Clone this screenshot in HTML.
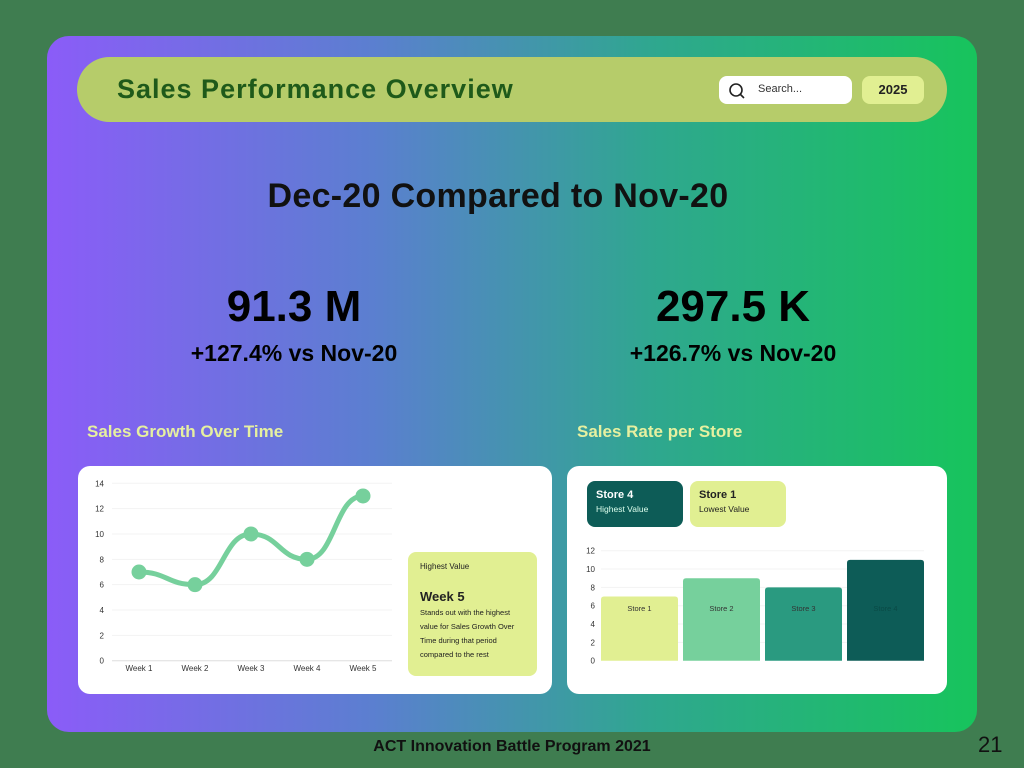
<!DOCTYPE html>
<html><head><meta charset="utf-8"><style>
*{margin:0;padding:0;box-sizing:border-box}
body{width:1024px;height:768px;background:#3f7d50;font-family:"Liberation Sans",sans-serif;position:relative;overflow:hidden}
.abs{position:absolute}
#card{left:47px;top:36px;width:930px;height:696px;border-radius:22px;background:linear-gradient(90deg,#8b5cf8 0%,#5b7fd0 35%,#2fa78f 65%,#17c45c 100%)}
#hdr{left:77px;top:57px;width:870px;height:65px;border-radius:33px;background:#b6cc6a}
.panel{background:#fff;border-radius:12px}
</style></head><body>
<div id="card" class="abs"></div>
<div id="hdr" class="abs"></div>
<div class="abs" style="left:117px;top:74px;font-size:27px;font-weight:bold;color:#1f5a1a;letter-spacing:1px">Sales Performance Overview</div>
<div class="abs" style="left:719px;top:76px;width:133px;height:28px;background:#fff;border-radius:8px">
<svg width="20" height="20" style="position:absolute;left:8px;top:4px"><circle cx="9" cy="10" r="6" fill="none" stroke="#222" stroke-width="1.6"/><line x1="13" y1="14" x2="17" y2="18" stroke="#222" stroke-width="1.6"/></svg>
<span style="position:absolute;left:39px;top:7px;font-size:11px;color:#333">Search...</span></div>
<div class="abs" style="left:862px;top:76px;width:62px;height:28px;background:#e1ef92;border-radius:8px;text-align:center;line-height:28px;font-size:13px;font-weight:bold;color:#222">2025</div>
<div class="abs" style="left:0;width:996px;top:177px;text-align:center;font-size:34px;font-weight:bold;color:#111;letter-spacing:0.3px">Dec-20 Compared to Nov-20</div>
<div class="abs" style="left:144px;width:300px;top:282px;text-align:center;font-size:44px;font-weight:bold;color:#000">91.3 M</div>
<div class="abs" style="left:144px;width:300px;top:340px;text-align:center;font-size:23px;font-weight:bold;color:#000">+127.4% vs Nov-20</div>
<div class="abs" style="left:583px;width:300px;top:282px;text-align:center;font-size:44px;font-weight:bold;color:#000">297.5 K</div>
<div class="abs" style="left:583px;width:300px;top:340px;text-align:center;font-size:23px;font-weight:bold;color:#000">+126.7% vs Nov-20</div>
<div class="abs" style="left:87px;top:422px;font-size:17px;font-weight:bold;color:#e6f0a0">Sales Growth Over Time</div>
<div class="abs" style="left:577px;top:422px;font-size:17px;font-weight:bold;color:#e6f0a0">Sales Rate per Store</div>
<div class="abs panel" style="left:78px;top:466px;width:474px;height:228px"></div>
<div class="abs panel" style="left:567px;top:466px;width:380px;height:228px"></div>
<svg class="abs" style="left:0;top:0" width="1024" height="768" id="charts">
<g id="lineg"></g><g id="barg"></g></svg>
<div class="abs" style="left:408px;top:552px;width:129px;height:124px;background:#e1ef92;border-radius:8px;padding:10px 12px;color:#222">
<div style="font-size:8px">Highest Value</div>
<div style="font-size:13px;font-weight:bold;margin-top:18px">Week 5</div>
<div style="font-size:7.5px;line-height:14px;margin-top:2px">Stands out with the highest value for Sales Growth Over Time during that period compared to the rest</div></div>
<div class="abs" style="left:587px;top:481px;width:96px;height:46px;background:#0d5c57;border-radius:8px;padding:8px 9px;color:#fff">
<div style="font-size:11px;font-weight:bold">Store 4</div><div style="font-size:8.5px;margin-top:3px;color:#dfe">Highest Value</div></div>
<div class="abs" style="left:690px;top:481px;width:96px;height:46px;background:#e1ef92;border-radius:8px;padding:8px 9px;color:#222">
<div style="font-size:11px;font-weight:bold">Store 1</div><div style="font-size:8.5px;margin-top:3px">Lowest Value</div></div>
<div class="abs" style="left:0;width:1024px;top:738px;text-align:center;font-size:16px;font-weight:bold;color:#111">ACT Innovation Battle Program 2021</div>
<div class="abs" style="left:978px;top:732px;font-size:22px;color:#111">21</div>
<script>
const weeks=["Week 1","Week 2","Week 3","Week 4","Week 5"];
const growth=[7,6,10,8,13];
const lineTicks=[0,2,4,6,8,10,12,14];
const stores=["Store 1","Store 2","Store 3","Store 4"];
const rates=[7,9,8,11];
const barTicks=[0,2,4,6,8,10,12];
const storeColors=["#e1ef92","#76d09c","#2a9a80","#0d5c57"];
const NS="http://www.w3.org/2000/svg";
function mk(p,t,a){const e=document.createElementNS(NS,t);for(const k in a)e.setAttribute(k,a[k]);p.appendChild(e);return e;}
const lg=document.getElementById('lineg');
const ly=v=>660.7-(v/14)*177.4, lx=i=>139+i*56;
lineTicks.forEach(t=>{const l=mk(lg,'line',{x1:112,x2:392,y1:ly(t),y2:ly(t),stroke:t==0?'#ddd':'#f3f3f3'});


const tx=mk(lg,'text',{x:104,y:ly(t)+3,'font-size':8,'text-anchor':'end',fill:'#333'});tx.textContent=t;

});
weeks.forEach((w,i)=>{const tx=mk(lg,'text',{x:lx(i),y:671,'font-size':8,'text-anchor':'middle',fill:'#333'});tx.textContent=w;

});
let d='';const pts=growth.map((v,i)=>[lx(i),ly(v)]);
pts.forEach((p,i)=>{if(i==0)d='M'+p[0]+','+p[1];else{const q=pts[i-1],m=(p[0]-q[0])/2;d+=' C'+(q[0]+m)+','+q[1]+' '+(p[0]-m)+','+p[1]+' '+p[0]+','+p[1];}});
const path=mk(lg,'path',{d:d,fill:'none',stroke:'#76d09c','stroke-width':5});


pts.forEach(p=>{const c=mk(lg,'circle',{cx:p[0],cy:p[1],r:7.5,fill:'#76d09c'});

});
const bg=document.getElementById('barg');
const by=v=>660.7-(v/12)*110;
barTicks.forEach(t=>{if(t>0){const l=mk(bg,'line',{x1:601,x2:924,y1:by(t),y2:by(t),stroke:'#f3f3f3'});

}
const tx=mk(bg,'text',{x:595,y:by(t)+3,'font-size':8,'text-anchor':'end',fill:'#333'});tx.textContent=t;

});
stores.forEach((s,i)=>{const x=601+i*82;
const r=mk(bg,'path',{d:`M${x},660.7 V${by(rates[i])+3} q0,-3 3,-3 H${x+74} q3,0 3,3 V660.7 Z`,fill:storeColors[i]});


const tx=mk(bg,'text',{x:x+38.5,y:611,'font-size':7.5,'text-anchor':'middle',fill:i==3?'#0a4a46':'#333'});tx.textContent=s;

});
</script>
</body></html>
